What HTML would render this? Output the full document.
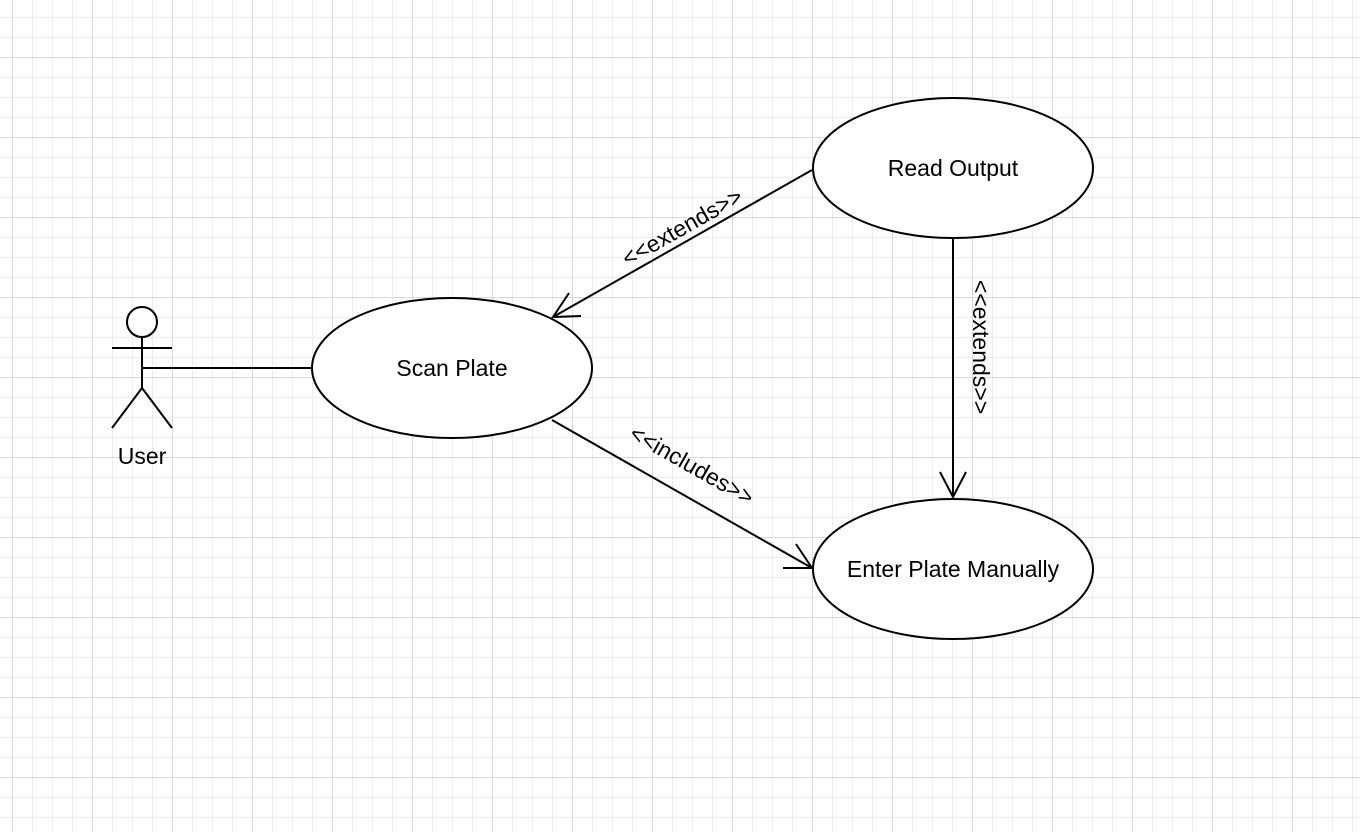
<!DOCTYPE html>
<html><head><meta charset="utf-8"><style>
html,body{margin:0;padding:0;background:#fff;}
svg{display:block;}
text{font-family:"Liberation Sans",Arial,sans-serif;fill:#000;}
</style></head><body>
<svg width="1360" height="832" viewBox="0 0 1360 832" xmlns="http://www.w3.org/2000/svg">
<defs>
<pattern id="minor" x="12" y="17" width="20" height="20" patternUnits="userSpaceOnUse">
<path d="M0 0H20M0 0V20" stroke="#ececec" stroke-width="2" fill="none"/>
</pattern>
<pattern id="major" x="12" y="57" width="80" height="80" patternUnits="userSpaceOnUse">
<path d="M0 0H80M0 0V80" stroke="#cccccc" stroke-width="1.2" fill="none"/>
</pattern>
</defs>
<rect width="1360" height="832" fill="url(#minor)"/>
<rect width="1360" height="832" fill="url(#major)"/>
<g stroke="#000" stroke-width="2" fill="none">
<circle cx="142" cy="322" r="15" fill="#fff"/>
<line x1="112" y1="348" x2="172" y2="348"/>
<line x1="142" y1="337" x2="142" y2="388"/>
<line x1="142" y1="388" x2="112" y2="428"/>
<line x1="142" y1="388" x2="172" y2="428"/>
<line x1="142" y1="368" x2="312" y2="368"/>
<ellipse cx="452" cy="368" rx="140" ry="70" fill="#fff"/>
<ellipse cx="953" cy="168" rx="140" ry="70" fill="#fff"/>
<ellipse cx="953" cy="569" rx="140" ry="70" fill="#fff"/>
<line x1="812" y1="170" x2="553" y2="317"/>
<polyline points="569,293 553,317 581,316"/>
<line x1="953" y1="238" x2="953" y2="497"/>
<polyline points="940,472 953,497 966,472"/>
<line x1="552" y1="420" x2="812" y2="568"/>
<polyline points="783,568 812,568 796,544"/>
</g>
<text x="142" y="464" font-size="23" text-anchor="middle">User</text>
<text x="452" y="376" font-size="23" text-anchor="middle">Scan Plate</text>
<text x="953" y="176" font-size="23" text-anchor="middle">Read Output</text>
<text x="953" y="577" font-size="23" text-anchor="middle">Enter Plate Manually</text>
<text font-size="23" text-anchor="middle" transform="translate(686,234) rotate(-29.5)">&lt;&lt;extends&gt;&gt;</text>
<text font-size="23" text-anchor="middle" transform="translate(973,347) rotate(90)">&lt;&lt;extends&gt;&gt;</text>
<text font-size="23" text-anchor="middle" transform="translate(688,472) rotate(29.5)">&lt;&lt;includes&gt;&gt;</text>
</svg>
</body></html>
